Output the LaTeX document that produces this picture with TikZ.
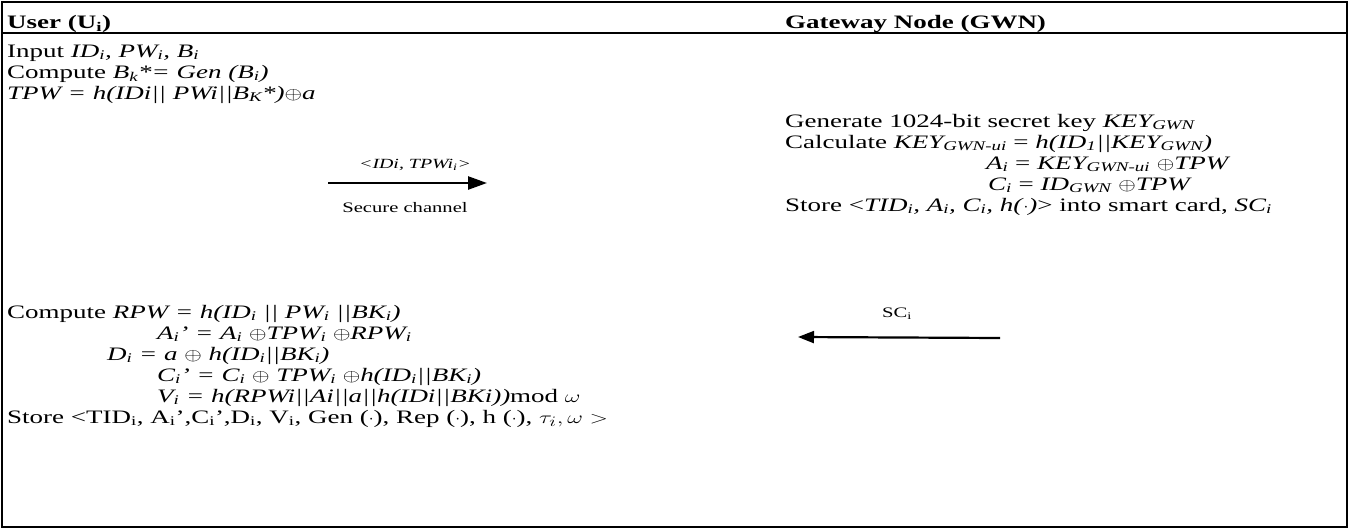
\documentclass[tikz,border=0pt]{standalone}
\usepackage{graphicx}
\usepackage{fontspec}
\setmainfont{Liberation Serif}[FakeStretch=1.42]
\usetikzlibrary{arrows.meta}
\newcommand{\xr}{\scalebox{1.3}[1]{$\oplus$}}
\newcommand{\wm}[1]{\scalebox{1.4}[1]{$#1$}}
\newcommand{\sub}[1]{\textsubscript{#1}}
\begin{document}
\begin{tikzpicture}[x=1pt,y=-1pt,
  body/.style={anchor=base west, inner sep=0pt, font=\fontsize{19}{21}\selectfont},
  head/.style={anchor=base west, inner sep=0pt, font=\fontsize{19}{21}\selectfont\bfseries},
  lbl/.style={anchor=base, inner sep=0pt, font=\fontsize{14.5}{16}\selectfont},
  msg/.style={-{Triangle[length=19pt,width=13pt]}, line width=2.5pt},
  frame/.style={line width=2pt}]
\useasboundingbox (0,0) rectangle (1358,530);
% table frame and header rule
\draw[frame] (2,2) rectangle (1347,527);
\draw[frame] (2,33) -- (1347,33);
% column headers
\node[head] (hu) at (7,28) {User (U\sub{i})};
\node[head] (hg) at (785,28) {Gateway Node (GWN)};
% user: registration request
\node[body] (u1) at (7,57) {Input \textit{ID\sub{i}, PW\sub{i}, B\sub{i}}};
\node[body] (u2) at (7,78) {Compute \textit{B\sub{k}*= Gen (B\sub{i})}};
\node[body] (u3) at (7,99) {\textit{TPW = h(IDi|| PWi||B\sub{K}*)}\xr\textit{a}};
% gateway: smart card issue
\node[body] (g1) at (785,127) {Generate 1024-bit secret key \textit{KEY\sub{GWN}}};
\node[body] (g2) at (785,148) {Calculate \textit{KEY\sub{GWN-ui}} = \textit{h(ID\sub{1}||KEY\sub{GWN})}};
\node[body] (g3) at (986,169) {\textit{A\sub{i}} = \textit{KEY\sub{GWN-ui}} \xr\textit{TPW}};
\node[body] (g4) at (988,190) {\textit{C\sub{i}} = \textit{ID\sub{GWN}} \xr\textit{TPW}};
\node[body] (g5) at (785,211) {Store <\textit{TID\sub{i}, A\sub{i}, C\sub{i}, h(}$\cdot$\textit{)}> into smart card, \textit{SC\sub{i}}};
% user: smart card update
\node[body] (v1) at (7,318) {Compute \textit{RPW = h(ID\sub{i} || PW\sub{i} ||BK\sub{i})}};
\node[body] (v2) at (157,339) {\textit{A\sub{i}’ = A\sub{i} }\xr\textit{TPW\sub{i} }\xr\textit{RPW\sub{i}}};
\node[body] (v3) at (107,360) {\textit{D\sub{i} = a }\xr\textit{ h(ID\sub{i}||BK\sub{i})}};
\node[body] (v4) at (157,381) {\textit{C\sub{i}’ = C\sub{i} }\xr\textit{ TPW\sub{i} }\xr\textit{h(ID\sub{i}||BK\sub{i})}};
\node[body] (v5) at (157,402) {\textit{V\sub{i} = h(RPWi||Ai||a||h(IDi||BKi))}mod \wm{\omega}};
\node[body] (v6) at (7,423) {Store <TID\sub{i}, A\sub{i}’,C\sub{i}’,D\sub{i}, V\sub{i}, Gen ($\cdot$), Rep ($\cdot$), h ($\cdot$), \wm{\tau_i, \omega >}};
% messages
\coordinate (m1s) at (328,183);
\coordinate (m1e) at (487,183);
\draw[msg] (m1s) -- (m1e);
\node[lbl, font=\fontsize{14}{16}\selectfont\itshape] (m1l) at (415,168) {<IDi, TPWi\sub{i}>};
\node[lbl] (m1c) at (405,212) {Secure channel};
\coordinate (m2s) at (1000,338);
\coordinate (m2e) at (798,337);
\draw[msg, line width=2.2pt, -{Triangle[length=16pt,width=12pt]}] (m2s) -- (m2e);
\node[lbl] (m2l) at (897,317) {SC\sub{i}};
\end{tikzpicture}
\end{document}
